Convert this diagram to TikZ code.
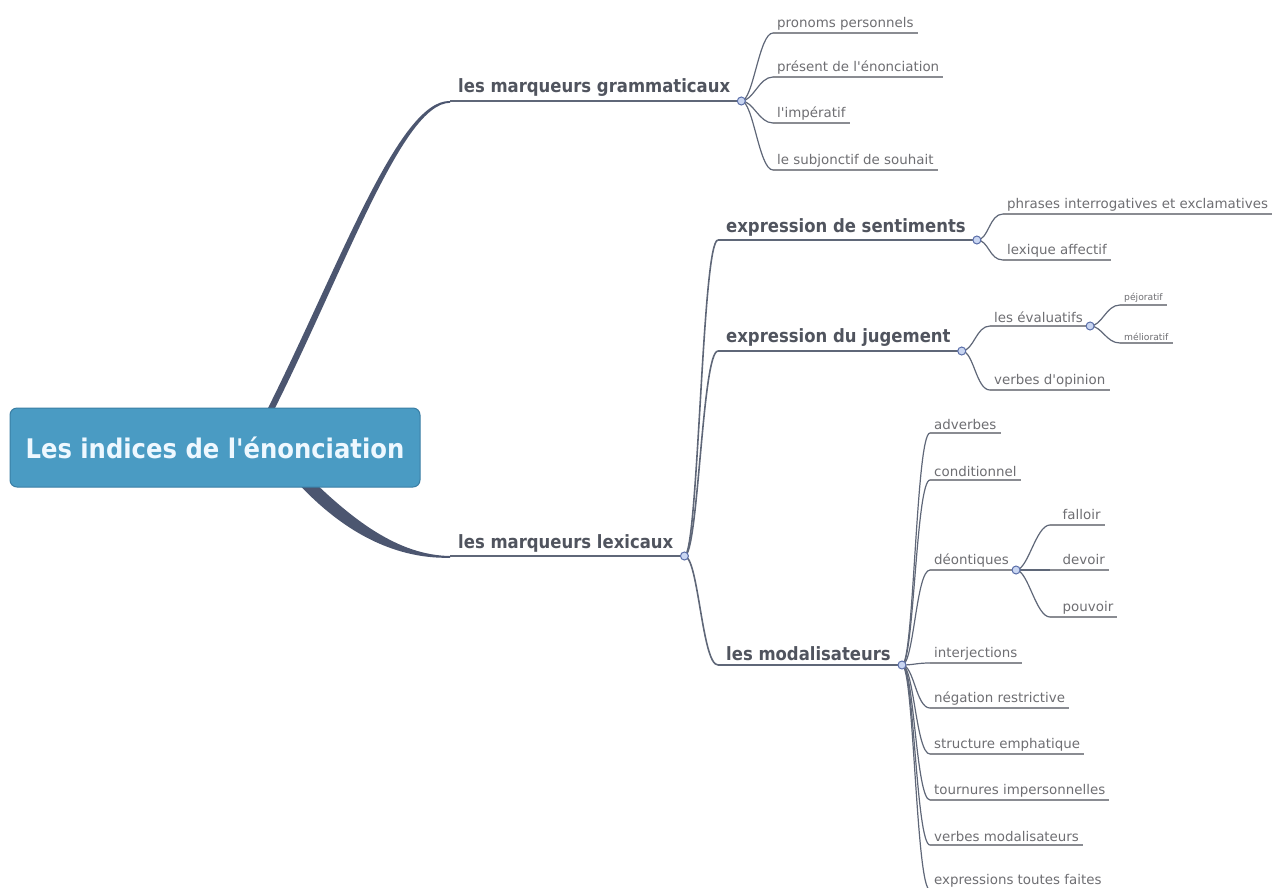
\documentclass[tikz,border=0pt]{standalone}
\usepackage{fontspec}
\setmainfont{DejaVu Sans Condensed}
\newfontfamily\leaffont{DejaVu Sans}
\definecolor{rootfill}{HTML}{4A9BC3}
\definecolor{rootdraw}{HTML}{3A7EA4}
\definecolor{roottext}{HTML}{EEF8FF}
\definecolor{majtext}{HTML}{50545E}
\definecolor{leaftext}{HTML}{6E6E72}
\definecolor{trunk}{HTML}{4C5670}
\definecolor{branch}{HTML}{5F6778}
\definecolor{underln}{HTML}{8A8C92}
\definecolor{hubfill}{HTML}{C9D6F2}
\definecolor{hubdraw}{HTML}{5A6EA8}
\tikzset{
  rootbox/.style={draw=rootdraw, fill=rootfill, line width=1pt, rounded corners=7pt,
    minimum width=410pt, minimum height=79pt, text=roottext,
    font=\bfseries\fontsize{27}{32}\selectfont},
  major/.style={anchor=south west, inner xsep=8pt, inner ysep=4pt, text=majtext,
    font=\bfseries\fontsize{18.3}{22}\selectfont},
  leaf/.style={anchor=south west, inner xsep=4pt, inner ysep=3pt, text=leaftext,
    font=\leaffont\fontsize{13.4}{16}\selectfont},
  tiny/.style={anchor=south west, inner xsep=4pt, inner ysep=2pt, text=leaftext,
    font=\leaffont\fontsize{9.2}{11}\selectfont},
  hub/.style={circle, draw=hubdraw, fill=hubfill, line width=1pt, inner sep=0pt,
    minimum size=8pt},
  majline/.style={draw=branch, line width=1.6pt},
  leafline/.style={draw=branch, line width=1.2pt},
  uline/.style={draw=underln, line width=1.4pt},
}
\newcommand{\twig}[3][leafline]{%
  \draw[#1] (#2) .. controls +(12,0) and +(-14,0) .. (#3.south west);
  \draw[uline] (#3.south west) -- (#3.south east);}
\begin{document}
\begin{tikzpicture}[x=1pt,y=-1pt]
\useasboundingbox (0,0) rectangle (1283,887);

% ---- first level -------------------------------------------------------
\node[major] (gram) at (450,101) {les marqueurs grammaticaux};
\node[major] (lex)  at (450,556) {les marqueurs lexicaux};
\coordinate (hgram) at ([xshift=3pt]gram.south east);
\coordinate (hlex)  at ([xshift=3pt]lex.south east);

% ---- tapered trunks from the root ---------------------------------------
\fill[trunk] (263,418) .. controls (338,270) and (398,99.5) .. (gram.south west)
  -- ++(0,1.8) .. controls (402,103) and (344,272) .. (270,418) -- cycle;
\fill[trunk] (304,472) .. controls (352,520) and (398,555.2) .. (lex.south west)
  -- ++(0,1.8) .. controls (392,559) and (340,530) .. (294,479) -- cycle;
\draw[majline] (gram.south west) -- (hgram);
\draw[majline] (lex.south west) -- (hlex);
\node[rootbox] (root) at (215,447.5) {Les indices de l\textquotesingle énonciation};

% ---- grammatical markers -----------------------------------------------
\node[leaf] (g1) at (773,33)  {pronoms personnels};
\node[leaf] (g2) at (773,77)  {présent de l\textquotesingle énonciation};
\node[leaf] (g3) at (773,123) {l\textquotesingle impératif};
\node[leaf] (g4) at (773,170) {le subjonctif de souhait};
\foreach \c in {g1,g2,g3,g4} {\twig{hgram}{\c}}

% ---- lexical markers ----------------------------------------------------
\node[major] (sent) at (718,240) {expression de sentiments};
\node[major] (jug)  at (718,351) {expression du jugement};
\node[major] (mod)  at (718,665) {les modalisateurs};
\coordinate (hsent) at ([xshift=3pt]sent.south east);
\coordinate (hjug)  at ([xshift=3pt]jug.south east);
\coordinate (hmod)  at ([xshift=3pt]mod.south east);
\foreach \c in {sent,jug,mod} {
  \draw[majline] (hlex) .. controls +(14,0) and +(-16,0) .. (\c.south west);
  \draw[majline] (\c.south west) -- ([xshift=3pt]\c.south east);
}

% feelings
\node[leaf] (s1) at (1003,214) {phrases interrogatives et exclamatives};
\node[leaf] (s2) at (1003,260) {lexique affectif};
\foreach \c in {s1,s2} {\twig{hsent}{\c}}

% judgement
\node[leaf] (j1) at (990,326) {les évaluatifs};
\node[leaf] (j2) at (990,390) {verbes d\textquotesingle opinion};
\foreach \c in {j1,j2} {\twig{hjug}{\c}}
\coordinate (heval) at ([xshift=3pt]j1.south east);
\node[tiny] (e1) at (1120,305) {péjoratif};
\node[tiny] (e2) at (1120,343) {mélioratif};
\foreach \c in {e1,e2} {\twig{heval}{\c}}

% modalisers
\node[leaf] (m1)  at (930,433) {adverbes};
\node[leaf] (m2)  at (930,480) {conditionnel};
\node[leaf] (m3)  at (930,570) {déontiques};
\node[leaf] (m4)  at (930,663) {interjections};
\node[leaf] (m5)  at (930,708) {négation restrictive};
\node[leaf] (m6)  at (930,754) {structure emphatique};
\node[leaf] (m7)  at (930,800) {tournures impersonnelles};
\node[leaf] (m8)  at (930,845) {verbes modalisateurs};
\node[leaf] (m9)  at (930,890) {expressions toutes faites};
\foreach \c in {m1,m2,m3,m4,m5,m6,m7,m8,m9} {\twig{hmod}{\c}}
\coordinate (hdeon) at ([xshift=3pt]m3.south east);
\node[leaf] (d1) at (1050,525) {\phantom{p}falloir};
\node[leaf] (d2) at (1050,570) {\phantom{p}devoir};
\node[leaf] (d3) at (1050,617) {\phantom{p}pouvoir};
\foreach \c in {d1,d2,d3} {\twig{hdeon}{\c}}

% ---- hubs on top ---------------------------------------------------------
\foreach \h in {hgram,hlex,hsent,hjug,hmod,heval,hdeon}
  \node[hub] at (\h) {};
\end{tikzpicture}
\end{document}
